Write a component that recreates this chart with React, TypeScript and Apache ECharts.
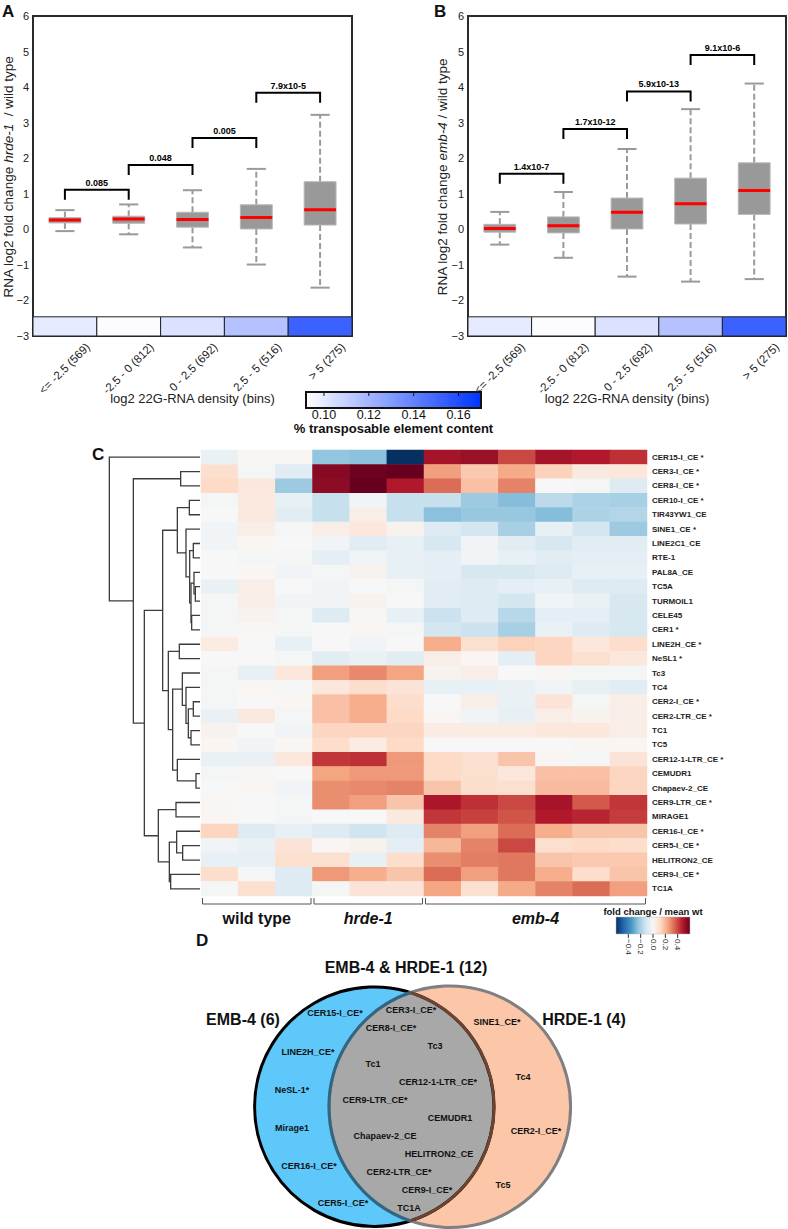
import { useEffect, useRef } from 'react';
import * as echarts from 'echarts';

const FONT = '"Liberation Sans", Arial, Helvetica, sans-serif';

// ---------- Panels A / B ----------
const binLabels = ['<= -2.5 (569)', '-2.5 - 0 (812)', '0 - 2.5 (692)', '2.5 - 5 (516)', '> 5 (275)'];
const teContent = [0.1, 0.093, 0.103, 0.115, 0.152];
// [min, Q1, median, Q3, max]
const hrdeBoxes = [
  [-0.05, 0.18, 0.26, 0.33, 0.54],
  [-0.14, 0.17, 0.29, 0.37, 0.7],
  [-0.51, 0.06, 0.28, 0.48, 1.1],
  [-0.99, 0.01, 0.33, 0.69, 1.7],
  [-1.64, 0.12, 0.55, 1.34, 3.22],
];
const embBoxes = [
  [-0.43, -0.08, 0.02, 0.14, 0.49],
  [-0.8, -0.1, 0.1, 0.35, 1.05],
  [-1.33, 0.01, 0.48, 0.88, 2.26],
  [-1.47, 0.15, 0.72, 1.44, 3.38],
  [-1.4, 0.42, 1.09, 1.87, 4.1],
];
const hrdePLabels = ['0.085', '0.048', '0.005', '7.9x10-5'];
const hrdeBracketY = [1.11, 1.81, 2.57, 3.84];
const embPLabels = ['1.4x10-7', '1.7x10-12', '5.9x10-13', '9.1x10-6'];
const embBracketY = [1.56, 2.82, 3.88, 4.9];
const teTicks = [0.1, 0.12, 0.14, 0.16];
const teRange = [0.092, 0.17];

// ---------- Panel C ----------
const samples = ['wt 1', 'wt 2', 'wt 3', 'hrde-1 1', 'hrde-1 2', 'hrde-1 3', 'emb-4 1', 'emb-4 2', 'emb-4 3', 'emb-4 4', 'emb-4 5', 'emb-4 6'];
const groupNames = ['wild type', 'hrde-1', 'emb-4'];
const groupItalic = [false, true, true];
const groupStart = [0, 3, 6];
const groupEnd = [2, 5, 11];
const teNames = [
  'CER15-I_CE *', 'CER3-I_CE *', 'CER8-I_CE *', 'CER10-I_CE *', 'TIR43YW1_CE', 'SINE1_CE *',
  'LINE2C1_CE', 'RTE-1', 'PAL8A_CE', 'TC5A', 'TURMOIL1', 'CELE45', 'CER1 *', 'LINE2H_CE *',
  'NeSL1 *', 'Tc3', 'TC4', 'CER2-I_CE *', 'CER2-LTR_CE *', 'TC1', 'TC5', 'CER12-1-LTR_CE *',
  'CEMUDR1', 'Chapaev-2_CE', 'CER9-LTR_CE *', 'MIRAGE1', 'CER16-I_CE *', 'CER5-I_CE *',
  'HELITRON2_CE', 'CER9-I_CE *', 'TC1A',
];
const heatValues = [
  [-0.04, 0.01, 0.01, -0.24, -0.25, -0.6, 0.5, 0.52, 0.4, 0.5, 0.48, 0.44],
  [0.1, -0.01, -0.07, 0.55, 0.59, 0.6, 0.25, 0.16, 0.23, 0.14, 0.06, 0.07],
  [0.12, 0.07, -0.22, 0.54, 0.6, 0.48, 0.34, 0.18, 0.3, 0, -0.01, -0.08],
  [-0.01, 0.06, -0.05, -0.14, -0.02, -0.14, -0.14, -0.22, -0.26, -0.16, -0.19, -0.2],
  [0, 0.06, -0.07, -0.14, 0.04, -0.14, -0.25, -0.23, -0.23, -0.26, -0.19, -0.18],
  [-0.02, 0.04, -0.01, 0.04, 0.07, 0.02, -0.08, -0.11, -0.2, -0.05, -0.11, -0.22],
  [-0.02, 0.01, 0, -0.02, -0.07, -0.05, -0.1, -0.02, -0.07, -0.1, -0.07, -0.07],
  [0, -0.01, -0.01, -0.06, -0.02, -0.05, -0.06, -0.02, -0.05, -0.07, -0.06, -0.06],
  [0, 0.01, -0.02, -0.01, 0.02, -0.05, -0.06, -0.1, -0.1, -0.08, -0.05, -0.05],
  [-0.04, 0.04, 0, -0.02, 0, -0.01, -0.07, -0.08, -0.06, -0.05, -0.08, -0.08],
  [-0.01, 0.04, -0.02, -0.02, 0.02, 0, -0.07, -0.08, -0.11, -0.02, -0.04, -0.1],
  [-0.01, 0.02, -0.01, -0.08, 0.01, -0.05, -0.13, -0.08, -0.17, -0.06, -0.06, -0.1],
  [-0.01, 0.01, -0.01, 0, 0.01, -0.01, -0.11, -0.13, -0.2, -0.04, -0.08, -0.1],
  [0.05, 0, -0.05, 0, -0.02, 0, 0.22, 0.1, 0.14, 0.13, 0.07, 0.11],
  [0, 0, -0.01, -0.07, -0.04, -0.07, 0.04, 0.01, -0.06, 0.13, 0.1, 0.07],
  [-0.01, -0.05, 0.07, 0.25, 0.29, 0.24, 0.02, 0.04, 0, 0.01, -0.01, -0.01],
  [-0.01, 0.01, -0.01, 0.07, 0.11, 0.08, -0.05, -0.05, -0.04, -0.02, -0.05, -0.07],
  [-0.01, 0, 0.01, 0.18, 0.22, 0.11, 0, 0.04, -0.04, 0.08, -0.01, 0.04],
  [-0.04, 0.06, -0.01, 0.18, 0.22, 0.12, 0.01, -0.02, -0.05, 0.04, 0.02, 0.04],
  [0.02, 0, -0.02, 0.13, 0.13, 0.13, 0.05, 0.05, 0.05, 0.07, 0.07, 0.04],
  [0.01, -0.02, 0.01, 0.11, 0.05, 0.12, 0, 0, 0, 0, 0.01, 0.01],
  [-0.04, -0.04, 0.07, 0.43, 0.44, 0.26, 0.12, 0.1, 0.17, 0.01, -0.01, 0.08],
  [-0.01, 0.01, 0, 0.24, 0.26, 0.26, 0.12, 0.1, 0.07, 0.18, 0.18, 0.13],
  [0, 0.01, -0.02, 0.28, 0.29, 0.3, 0.17, 0.11, 0.1, 0.19, 0.19, 0.13],
  [0.01, 0, -0.01, 0.28, 0.25, 0.17, 0.49, 0.44, 0.4, 0.5, 0.37, 0.43],
  [0.01, 0, -0.01, 0, 0, 0.06, 0.43, 0.41, 0.38, 0.48, 0.46, 0.42],
  [0.13, -0.08, -0.05, -0.08, -0.12, -0.08, 0.3, 0.25, 0.34, 0.22, 0.17, 0.17],
  [-0.02, -0.04, 0.08, 0.01, 0.02, -0.06, 0.2, 0.3, 0.4, 0.1, 0.12, 0.11],
  [-0.05, -0.05, 0.1, 0.1, -0.05, 0.11, 0.28, 0.31, 0.32, 0.17, 0.16, 0.16],
  [0.11, -0.01, -0.08, 0.26, 0.22, 0.17, 0.34, 0.25, 0.32, 0.22, 0.11, 0.17],
  [-0.01, 0.1, -0.08, -0.01, 0.08, 0.08, 0.24, 0.1, 0.23, 0.3, 0.34, 0.25],
];
// dendrogram merges: [id, childA, childB, height] (numbers = row index)
const dendroMerges: [string, number | string, number | string, number][] = [
  ['n1', 1, 2, 58], ['n2', 3, 4, 32], ['n3', 6, 7, 20], ['n4', 9, 10, 14], ['n5', 8, 'n4', 18],
  ['n6', 11, 12, 25], ['n7', 'n5', 'n6', 27], ['n8', 'n3', 'n7', 31], ['n9', 5, 'n8', 42],
  ['n10', 'n2', 'n9', 68], ['n11', 13, 14, 62], ['n12', 17, 18, 20], ['n13', 19, 20, 27],
  ['n14', 'n12', 'n13', 35], ['n15', 16, 'n14', 42], ['n16', 15, 'n15', 53], ['n17', 22, 23, 12],
  ['n18', 21, 'n17', 68], ['n19', 'n16', 'n18', 82], ['n20', 'n11', 'n19', 95], ['n21', 'n10', 'n20', 112],
  ['n22', 24, 25, 72], ['n23', 27, 28, 52], ['n24', 26, 'n23', 70], ['n25', 29, 30, 88],
  ['n26', 'n24', 'n25', 92], ['n27', 'n22', 'n26', 125], ['n28', 'n21', 'n27', 167],
  ['n29', 'n1', 'n28', 200], ['n30', 0, 'n29', 272],
];
const fcTicks = [-0.4, -0.2, 0, 0.2, 0.4];
const fcRange = [-0.6, 0.6];
const rdbu = ['#053061', '#2166ac', '#4393c3', '#92c5de', '#d1e5f0', '#f7f7f7', '#fddbc7', '#f4a582', '#d6604d', '#b2182b', '#67001f'];

// ---------- Panel D ----------
const vennTitles = ['EMB-4 & HRDE-1 (12)', 'EMB-4 (6)', 'HRDE-1 (4)'];
const vennItems: [string, number, number][] = [
  ['CER15-I_CE*', 335, 1013], ['LINE2H_CE*', 308, 1052], ['NeSL-1*', 292, 1090], ['Mirage1', 292, 1128],
  ['CER16-I_CE*', 309, 1166], ['CER5-I_CE*', 343, 1203],
  ['CER3-I_CE*', 411, 1010], ['CER8-I_CE*', 391, 1028], ['Tc3', 435, 1046], ['Tc1', 373, 1064],
  ['CER12-1-LTR_CE*', 438, 1082], ['CER9-LTR_CE*', 375, 1100], ['CEMUDR1', 450, 1118],
  ['Chapaev-2_CE', 385, 1136], ['HELITRON2_CE', 439, 1154], ['CER2-LTR_CE*', 399, 1172],
  ['CER9-I_CE*', 427, 1190], ['TC1A', 409, 1208],
  ['SINE1_CE*', 497, 1022], ['Tc4', 523, 1077], ['CER2-I_CE*', 536, 1131], ['Tc5', 503, 1185],
];

const minus = (v: number | string) => String(v).replace('-', '\u2212');

function boxRender(params: any, api: any) {
  const i = api.value(0);
  const mn = api.value(1), q1 = api.value(2), md = api.value(3), q3 = api.value(4), mx = api.value(5);
  const band = api.size([1, 0])[0];
  const bw = band * 0.5;
  const cw = band * 0.3;
  const pMin = api.coord([i, mn]);
  const pQ1 = api.coord([i, q1]);
  const pMd = api.coord([i, md]);
  const pQ3 = api.coord([i, q3]);
  const pMax = api.coord([i, mx]);
  const cx = pMin[0];
  const grey = '#9a9a9a';
  return {
    type: 'group',
    children: [
      { type: 'line', shape: { x1: cx, y1: pQ3[1], x2: cx, y2: pMax[1] }, style: { stroke: grey, lineWidth: 2, lineDash: [6, 3] } },
      { type: 'line', shape: { x1: cx, y1: pQ1[1], x2: cx, y2: pMin[1] }, style: { stroke: grey, lineWidth: 2, lineDash: [6, 3] } },
      { type: 'line', shape: { x1: cx - cw / 2, y1: pMax[1], x2: cx + cw / 2, y2: pMax[1] }, style: { stroke: grey, lineWidth: 2 } },
      { type: 'line', shape: { x1: cx - cw / 2, y1: pMin[1], x2: cx + cw / 2, y2: pMin[1] }, style: { stroke: grey, lineWidth: 2 } },
      { type: 'rect', shape: { x: cx - bw / 2, y: pQ3[1], width: bw, height: pQ1[1] - pQ3[1] }, style: { fill: '#999999', stroke: '#b8b8b8', lineWidth: 1 } },
      { type: 'line', shape: { x1: cx - bw / 2, y1: pMd[1], x2: cx + bw / 2, y2: pMd[1] }, style: { stroke: '#ff0000', lineWidth: 3 } },
    ],
  };
}

function stripRender(params: any, api: any) {
  const i = api.value(0);
  const band = api.size([1, 0])[0];
  const pBot = api.coord([i, -3]);
  const pTop = api.coord([i, -2.46]);
  return {
    type: 'rect',
    shape: { x: pBot[0] - band / 2, y: pTop[1], width: band, height: pBot[1] - pTop[1] },
    style: { fill: api.visual('color'), stroke: '#222', lineWidth: 1 },
  };
}

function binLabelRender(params: any, api: any) {
  const i = api.value(0);
  const p = api.coord([i, -3]);
  return {
    type: 'text', x: p[0] + 23, y: p[1] + 9, rotation: Math.PI / 4,
    style: { text: binLabels[params.dataIndex], align: 'right', verticalAlign: 'middle', fontSize: 11.5, fill: '#222', fontFamily: FONT },
  };
}

const bracketRender = (labels: string[]) => (params: any, api: any) => {
  const i = api.value(0);
  const y = api.value(1);
  const a = api.coord([i, y]);
  const b = api.coord([i + 1, y]);
  return {
    type: 'group',
    children: [
      {
        type: 'polyline',
        shape: { points: [[a[0], a[1] + 10], [a[0], a[1]], [b[0], b[1]], [b[0], b[1] + 10]] },
        style: { stroke: '#000', lineWidth: 2, fill: 'none' },
      },
      {
        type: 'text', x: (a[0] + b[0]) / 2, y: a[1] - 7,
        style: { text: labels[params.dataIndex], align: 'center', verticalAlign: 'middle', fontSize: 9, fontWeight: 'bold', fill: '#000', fontFamily: FONT },
      },
    ],
  };
};

function App() {
  const ref = useRef<HTMLDivElement>(null);
  useEffect(() => {
    // Venn geometry
    const L = { x: 374.3, y: 1106.7, r: 119.7 };
    const R = { x: 449.8, y: 1106.7, r: 120.8 };
    const d = R.x - L.x;
    const a = (L.r * L.r - R.r * R.r + d * d) / (2 * d);
    const ix = L.x + a;
    const hh = Math.sqrt(L.r * L.r - a * a);
    const lens = `M ${ix} ${L.y - hh} A ${L.r} ${L.r} 0 0 1 ${ix} ${L.y + hh} A ${R.r} ${R.r} 0 0 1 ${ix} ${L.y - hh} Z`;
    echarts.graphic.registerShape('vennLens', echarts.graphic.extendPath(lens, {}));
    const angL = Math.atan2(hh, ix - L.x);
    const angR = Math.atan2(hh, ix - R.x);

    const chart = echarts.init(ref.current!, null, { renderer: 'svg' });

    // dendrogram lines
    const pos: Record<string, { y: number; h: number }> = {};
    const getPos = (k: number | string) => (typeof k === 'number' ? { y: k, h: 0 } : pos[k]);
    const dendroLines: any[] = [];
    dendroMerges.forEach(([id, ca, cb, h]) => {
      const A = getPos(ca);
      const B = getPos(cb);
      pos[id] = { y: (A.y + B.y) / 2, h };
      dendroLines.push({ coords: [[A.h, A.y], [h, A.y], [h, B.y], [B.h, B.y]] });
    });

    const heatData: number[][] = [];
    heatValues.forEach((row, r) => row.forEach((v, c) => heatData.push([c, r, v])));

    const hmLeft = 201, hmTop = 450, hmW = 446, hmH = 446;
    const cellW = hmW / samples.length;

    const graphics: any[] = [];
    const txt = (text: string, x: number, y: number, o: any = {}) => ({
      type: 'text', x, y, rotation: o.rotation || 0, silent: true,
      style: {
        text, align: o.align || 'center', verticalAlign: o.va || 'middle', fontSize: o.size || 12,
        fontWeight: o.weight || 'normal', fontStyle: o.style || 'normal', fill: o.color || '#111', fontFamily: FONT,
        rich: o.rich,
      },
    });
    // panel letters
    graphics.push(txt('A', 2, 3, { align: 'left', va: 'top', size: 17, weight: 'bold' }));
    graphics.push(txt('B', 434, 3, { align: 'left', va: 'top', size: 17, weight: 'bold' }));
    graphics.push(txt('C', 92, 446, { align: 'left', va: 'top', size: 17, weight: 'bold' }));
    graphics.push(txt('D', 196, 932, { align: 'left', va: 'top', size: 17, weight: 'bold' }));
    // y-axis titles
    const richT = {
      n: { fontSize: 13.5, fill: '#222', fontFamily: FONT },
      i: { fontSize: 13.5, fill: '#222', fontFamily: FONT, fontStyle: 'italic' },
    };
    graphics.push(txt('{n|RNA log2 fold change }{i|hrde-1}{n|  / wild type}', 8, 177, { rotation: Math.PI / 2, rich: richT }));
    graphics.push(txt('{n|RNA log2 fold change }{i|emb-4}{n| / wild type}', 442, 177, { rotation: Math.PI / 2, rich: richT }));
    // x-axis titles
    graphics.push(txt('log2 22G-RNA density (bins)', 192.5, 398, { size: 13, color: '#222' }));
    graphics.push(txt('log2 22G-RNA density (bins)', 627, 398, { size: 13, color: '#222' }));
    // TE colorbar
    const cbX = 306, cbY = 392, cbW = 175, cbH = 16;
    graphics.push({
      type: 'rect', shape: { x: cbX, y: cbY, width: cbW, height: cbH }, silent: true,
      style: {
        fill: new echarts.graphic.LinearGradient(0, 0, 1, 0, [{ offset: 0, color: '#ffffff' }, { offset: 1, color: '#0033ff' }]),
        stroke: '#111', lineWidth: 2,
      },
    });
    teTicks.forEach((t) => {
      const x = cbX + ((t - teRange[0]) / (teRange[1] - teRange[0])) * cbW;
      graphics.push({ type: 'line', silent: true, shape: { x1: x, y1: cbY, x2: x, y2: cbY + 4 }, style: { stroke: '#111', lineWidth: 1 } });
      graphics.push(txt(t.toFixed(2), x, 415, { size: 12.5, color: '#111' }));
    });
    graphics.push(txt('% transposable element content', cbX + cbW / 2, 428, { size: 13, weight: 'bold', color: '#111' }));

    // heatmap group brackets
    groupNames.forEach((g, k) => {
      const x1 = hmLeft + groupStart[k] * cellW + 1.5;
      const x2 = hmLeft + (groupEnd[k] + 1) * cellW - 1.5;
      graphics.push({
        type: 'polyline', silent: true,
        shape: { points: [[x1, 898], [x1, 904], [x2, 904], [x2, 898]] },
        style: { stroke: '#555', lineWidth: 1, fill: 'none' },
      });
      graphics.push(txt(g, (x1 + x2) / 2, 918, { size: 16, weight: 'bold', style: groupItalic[k] ? 'italic' : 'normal', color: '#111' }));
    });
    // fold change legend
    const fcX = 616, fcY = 917, fcW = 74, fcH = 17;
    graphics.push(txt('fold change / mean wt', fcX + fcW / 2, 911, { size: 9.5, weight: 'bold', color: '#111' }));
    graphics.push({
      type: 'rect', silent: true, shape: { x: fcX, y: fcY, width: fcW, height: fcH },
      style: {
        fill: new echarts.graphic.LinearGradient(0, 0, 1, 0, rdbu.map((c, k) => ({ offset: k / (rdbu.length - 1), color: c }))),
        stroke: '#bbb', lineWidth: 0.5,
      },
    });
    fcTicks.forEach((t) => {
      const x = fcX + ((t - fcRange[0]) / (fcRange[1] - fcRange[0])) * fcW;
      graphics.push({ type: 'line', silent: true, shape: { x1: x, y1: fcY + fcH, x2: x, y2: fcY + fcH + 4 }, style: { stroke: '#333', lineWidth: 1 } });
      graphics.push(txt(minus(t.toFixed(1)), x, fcY + fcH + 5, { size: 8, align: 'left', va: 'middle', rotation: -Math.PI / 2, color: '#222' }));
    });

    // Venn
    graphics.push({ type: 'circle', silent: true, shape: { cx: L.x, cy: L.y, r: L.r }, style: { fill: '#5ec8fa' } });
    graphics.push({ type: 'circle', silent: true, shape: { cx: R.x, cy: R.y, r: R.r }, style: { fill: '#fcc6a8' } });
    graphics.push({ type: 'vennLens', silent: true, x: 0, y: 0, style: { fill: '#a8a8a8' } });
    graphics.push({ type: 'circle', silent: true, shape: { cx: L.x, cy: L.y, r: L.r }, style: { fill: 'none', stroke: '#000', lineWidth: 3 } });
    graphics.push({ type: 'circle', silent: true, shape: { cx: R.x, cy: R.y, r: R.r }, style: { fill: 'none', stroke: '#808080', lineWidth: 3 } });
    graphics.push({ type: 'arc', silent: true, shape: { cx: L.x, cy: L.y, r: L.r, startAngle: -angL, endAngle: angL, clockwise: true }, style: { stroke: '#6b4532', lineWidth: 3, fill: 'none' } });
    graphics.push({ type: 'arc', silent: true, shape: { cx: R.x, cy: R.y, r: R.r, startAngle: angR, endAngle: 2 * Math.PI - angR, clockwise: true }, style: { stroke: '#2f6684', lineWidth: 3, fill: 'none' } });
    graphics.push(txt(vennTitles[0], 406, 967, { size: 16, weight: 'bold', color: '#111' }));
    graphics.push(txt(vennTitles[1], 243, 1019, { size: 16, weight: 'bold', color: '#111' }));
    graphics.push(txt(vennTitles[2], 584, 1019, { size: 16, weight: 'bold', color: '#111' }));
    vennItems.forEach(([t, x, y]) => graphics.push(txt(t, x, y, { size: 9, weight: 'bold', color: '#111' })));

    const yAxisCommon = {
      type: 'value', min: -3, max: 6, interval: 1,
      axisLine: { show: false }, axisTick: { show: false }, splitLine: { show: false },
      axisLabel: { fontSize: 11, color: '#222', margin: 4, fontFamily: FONT, formatter: (v: number) => minus(v) },
    };
    const xAxisCommon = {
      type: 'category', data: binLabels, boundaryGap: true,
      axisLine: { show: false }, axisTick: { show: false }, splitLine: { show: false },
      axisLabel: { show: false },
    };

    const option: any = {
      animation: false,
      textStyle: { fontFamily: FONT },
      grid: [
        { left: 33, top: 16, width: 319, height: 320, show: true, borderColor: '#2b2b2b', borderWidth: 2, backgroundColor: 'transparent' },
        { left: 468, top: 16, width: 318, height: 320, show: true, borderColor: '#2b2b2b', borderWidth: 2, backgroundColor: 'transparent' },
        { left: hmLeft, top: hmTop, width: hmW, height: hmH, show: false },
        { left: 200 - 280 / 3, top: hmTop, width: 280 / 3, height: hmH, show: false },
      ],
      xAxis: [
        { ...xAxisCommon, gridIndex: 0 },
        { ...xAxisCommon, gridIndex: 1 },
        { type: 'category', data: samples, gridIndex: 2, show: false },
        { type: 'value', gridIndex: 3, min: 0, max: 280, inverse: true, show: false },
      ],
      yAxis: [
        { ...yAxisCommon, gridIndex: 0 },
        { ...yAxisCommon, gridIndex: 1 },
        {
          type: 'category', data: teNames, gridIndex: 2, inverse: true, position: 'right',
          axisLine: { show: false }, axisTick: { show: false }, splitLine: { show: false },
          axisLabel: { interval: 0, fontSize: 8, fontWeight: 'bold', color: '#222', margin: 5, fontFamily: FONT },
        },
        { type: 'value', gridIndex: 3, min: -0.5, max: teNames.length - 0.5, inverse: true, show: false },
      ],
      visualMap: [
        { type: 'continuous', show: false, min: fcRange[0], max: fcRange[1], dimension: 2, seriesIndex: 6, inRange: { color: rdbu } },
        { type: 'continuous', show: false, min: teRange[0], max: teRange[1], dimension: 1, seriesIndex: [2, 3], inRange: { color: ['#ffffff', '#0033ff'] } },
      ],
      series: [
        { type: 'custom', xAxisIndex: 0, yAxisIndex: 0, renderItem: boxRender, data: hrdeBoxes.map((b, i) => [i, ...b]), encode: { x: 0, y: [1, 2, 3, 4, 5] }, z: 3 },
        { type: 'custom', xAxisIndex: 1, yAxisIndex: 1, renderItem: boxRender, data: embBoxes.map((b, i) => [i, ...b]), encode: { x: 0, y: [1, 2, 3, 4, 5] }, z: 3 },
        { type: 'custom', xAxisIndex: 0, yAxisIndex: 0, renderItem: stripRender, data: teContent.map((v, i) => [i, v]), encode: { x: 0, y: 1 }, z: 2 },
        { type: 'custom', xAxisIndex: 1, yAxisIndex: 1, renderItem: stripRender, data: teContent.map((v, i) => [i, v]), encode: { x: 0, y: 1 }, z: 2 },
        { type: 'custom', xAxisIndex: 0, yAxisIndex: 0, renderItem: bracketRender(hrdePLabels), data: hrdeBracketY.map((y, i) => [i, y]), encode: { x: 0, y: 1 }, z: 4 },
        { type: 'custom', xAxisIndex: 1, yAxisIndex: 1, renderItem: bracketRender(embPLabels), data: embBracketY.map((y, i) => [i, y]), encode: { x: 0, y: 1 }, z: 4 },
        { type: 'heatmap', xAxisIndex: 2, yAxisIndex: 2, data: heatData, emphasis: { disabled: true }, itemStyle: { borderWidth: 0 } },
        {
          type: 'lines', coordinateSystem: 'cartesian2d', xAxisIndex: 3, yAxisIndex: 3, polyline: true, silent: true,
          data: dendroLines, lineStyle: { color: '#3c3c3c', width: 1.3, opacity: 1 },
        },
        { type: 'custom', xAxisIndex: 0, yAxisIndex: 0, renderItem: binLabelRender, data: binLabels.map((_, i) => [i, -3]), encode: { x: 0, y: 1 }, clip: false, z: 5 },
        { type: 'custom', xAxisIndex: 1, yAxisIndex: 1, renderItem: binLabelRender, data: binLabels.map((_, i) => [i, -3]), encode: { x: 0, y: 1 }, clip: false, z: 5 },
      ],
      graphic: graphics,
    };
    chart.setOption(option);
    return () => chart.dispose();
  }, []);
  return <div ref={ref} style={{ position: 'absolute', left: 0, top: 0, width: 788, height: 1229, background: '#fff' }} />;
}

export default App;
